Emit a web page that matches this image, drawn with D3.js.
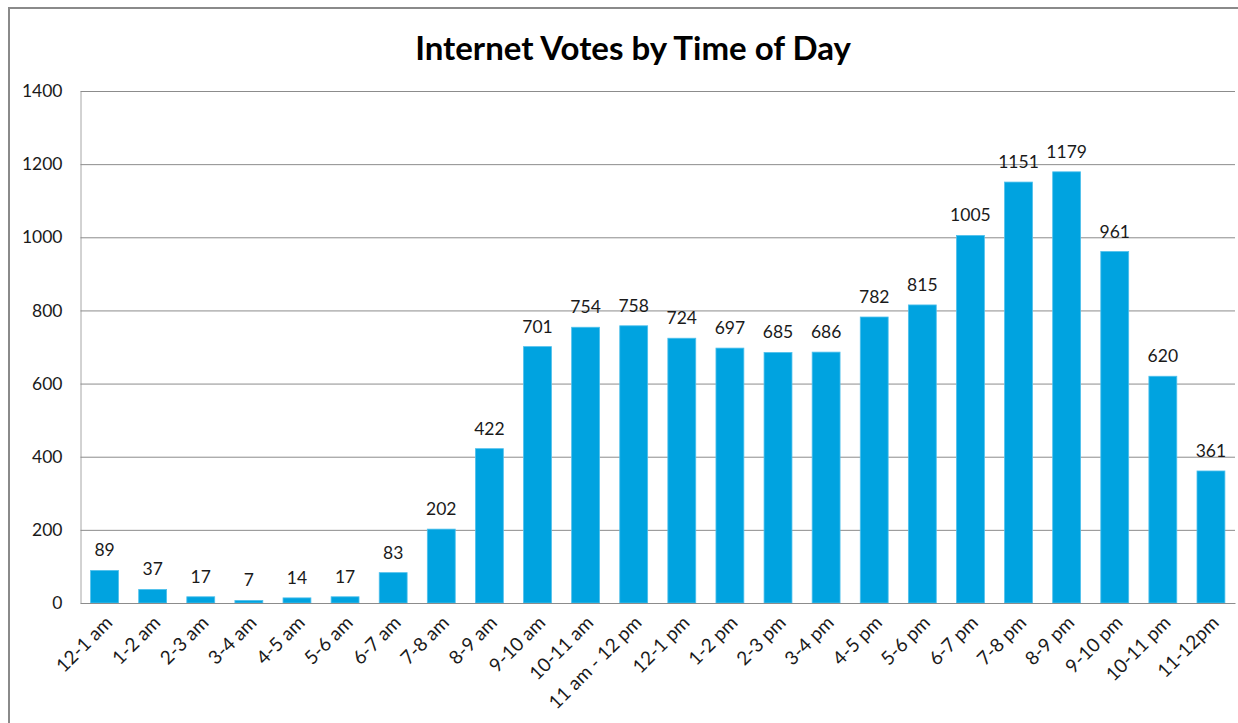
<!DOCTYPE html>
<html>
<head>
<meta charset="utf-8">
<script src="https://cdn.jsdelivr.net/npm/d3@7"></script>
<style>
  html, body { margin: 0; padding: 0; background: #fff; }
  svg { display: block; }
  text { font-family: Lato, "Open Sans", "DejaVu Sans", sans-serif; fill: #1a1a1a; }
</style>
</head>
<body>
<svg id="chart" width="1238" height="723"></svg>
<script>
// Hourly slots of the day
const categories = [
  "12-1 am", "1-2 am", "2-3 am", "3-4 am", "4-5 am", "5-6 am", "6-7 am",
  "7-8 am", "8-9 am", "9-10 am", "10-11 am", "11 am - 12 pm", "12-1 pm",
  "1-2 pm", "2-3 pm", "3-4 pm", "4-5 pm", "5-6 pm", "6-7 pm", "7-8 pm",
  "8-9 pm", "9-10 pm", "10-11 pm", "11-12pm"
];
// Internet votes cast in each slot
const votes = [
  89, 37, 17, 7, 14, 17, 83, 202, 422, 701, 754, 758, 724,
  697, 685, 686, 782, 815, 1005, 1151, 1179, 961, 620, 361
];
// Value axis ticks
const yTicks = [0, 200, 400, 600, 800, 1000, 1200, 1400];

const svg = d3.select("#chart");
const plot = { left: 80.5, right: 1235, top: 91, bottom: 603 };

// Outer chart frame
svg.append("rect")
  .attr("x", 9).attr("y", 8)
  .attr("width", 1238).attr("height", 730)
  .attr("fill", "none")
  .attr("stroke", "#8a8a8a")
  .attr("stroke-width", 2);

// Title
svg.append("text")
  .attr("x", 633).attr("y", 60)
  .attr("text-anchor", "middle")
  .style("font-size", "33px")
  .style("font-weight", "bold")
  .style("fill", "#000")
  .text("Internet Votes by Time of Day");

const x = d3.scaleBand()
  .domain(categories)
  .range([plot.left, plot.right])
  .paddingInner(0.42)
  .paddingOuter(0.21);

const y = d3.scaleLinear()
  .domain([0, 1400])
  .range([plot.bottom, plot.top]);

// Horizontal gridlines + value labels
const yAxis = d3.axisLeft(y)
  .tickValues(yTicks)
  .tickSize(-(plot.right - plot.left))
  .tickPadding(18)
  .tickFormat(d3.format("d"));

const gy = svg.append("g")
  .attr("transform", `translate(${plot.left},0)`)
  .call(yAxis);
gy.select(".domain").attr("stroke", "#a6a6a6");
gy.selectAll(".tick line").attr("stroke", "#8c8c8c").attr("stroke-width", 1);
gy.selectAll(".tick text")
  .style("font-size", "17.5px")
  .style("font-family", "Lato, 'Open Sans', sans-serif")
  .attr("fill", "#1a1a1a");

// Bars
svg.append("g").selectAll("rect")
  .data(votes)
  .join("rect")
  .attr("x", (d, i) => x(categories[i]))
  .attr("y", d => y(d))
  .attr("width", x.bandwidth())
  .attr("height", d => y(0) - y(d))
  .attr("fill", "#00a3e0")
  .attr("stroke", "#4fc0ec")
  .attr("stroke-width", 0.8);

// Value labels over the bars
svg.append("g").selectAll("text")
  .data(votes)
  .join("text")
  .attr("x", (d, i) => x(categories[i]) + x.bandwidth() / 2)
  .attr("y", d => y(d) - 14)
  .attr("text-anchor", "middle")
  .style("font-size", "17.5px")
  .text(d => d);

// Category axis
const xAxis = d3.axisBottom(x).tickSize(0).tickPadding(0);
const gx = svg.append("g")
  .attr("transform", `translate(0,${plot.bottom})`)
  .call(xAxis);
gx.select(".domain").attr("stroke", "#8c8c8c");
gx.selectAll(".tick text")
  .style("font-size", "19px")
  .style("font-family", "Lato, 'Open Sans', sans-serif")
  .attr("fill", "#1a1a1a")
  .attr("text-anchor", "end")
  .attr("dy", null)
  .attr("y", null)
  .attr("transform", "translate(9,21) rotate(-45)");
</script>
</body>
</html>
